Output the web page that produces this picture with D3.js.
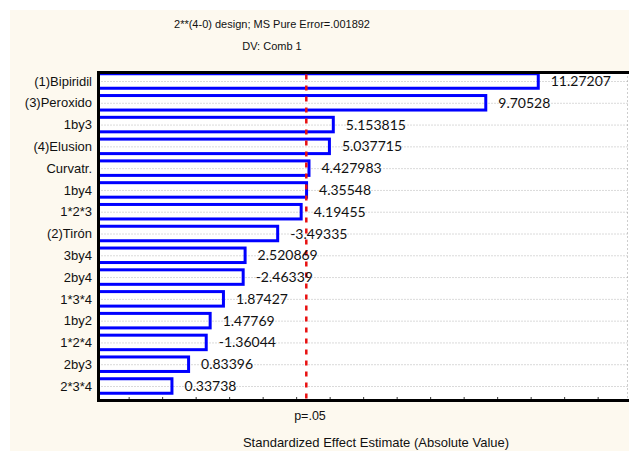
<!DOCTYPE html>
<html>
<head>
<meta charset="utf-8">
<script src="https://cdn.jsdelivr.net/npm/d3@7"></script>
<style>
  html, body { margin: 0; padding: 0; background: #ffffff; }
  svg { display: block; }
</style>
</head>
<body>
<svg id="chart" width="629" height="451"></svg>
<script>
// Effect names (sorted by absolute effect) and their signed standardized estimates
const factors = ["(1)Bipiridil", "(3)Peroxido", "1by3", "(4)Elusion", "Curvatr.", "1by4",
  "1*2*3", "(2)Tirón", "3by4", "2by4", "1*3*4", "1by2", "1*2*4", "2by3", "2*3*4"];
const effects = [11.27207, 9.70528, 5.153815, 5.037715, 4.427983, 4.35548,
  4.19455, -3.49335, 2.520869, -2.46339, 1.87427, 1.47769, -1.36044, 0.83396, 0.33738];
const effectLabels = ["11.27207", "9.70528", "5.153815", "5.037715", "4.427983", "4.35548",
  "4.19455", "-3.49335", "2.520869", "-2.46339", "1.87427", "1.47769", "-1.36044", "0.83396", "0.33738"];
const tickValues = [-1, 0, 1, 2, 3, 4, 5, 6, 7, 8, 9, 10, 11, 12, 13];
const critical = 4.303;   // t(.975, df=2)
const titleLines = ["2**(4-0) design; MS Pure Error=.001892", "DV: Comb 1"];
const xTitle = "Standardized Effect Estimate (Absolute Value)";
const critLabel = "p=.05";

const svg = d3.select("#chart");
const W = 629, H = 451;
const plot = { left: 98.5, top: 72.5, bottom: 400.5, right: 640 };

// page background
svg.append("rect").attr("x", 10).attr("y", 10).attr("width", W - 10).attr("height", H - 10)
  .attr("fill", "#fdf9ef");

// plot area
svg.append("rect").attr("x", plot.left).attr("y", plot.top)
  .attr("width", plot.right - plot.left).attr("height", plot.bottom - plot.top)
  .attr("fill", "#ffffff");

const x = d3.scaleLinear().domain([-1.9, 14.2]).range([plot.left, plot.left + 16.1 * 33.5]);
const y = d3.scalePoint().domain(factors).range([81, 386]);

svg.append("clipPath").attr("id", "plotclip").append("rect")
  .attr("x", plot.left).attr("y", plot.top).attr("width", W - plot.left).attr("height", plot.bottom - plot.top);

const g = svg.append("g").attr("clip-path", "url(#plotclip)");

// horizontal dotted grid through each effect row
g.selectAll("line.grid").data(factors).join("line")
  .attr("class", "grid")
  .attr("x1", plot.left).attr("x2", W)
  .attr("y1", d => y(d) + 0.5).attr("y2", d => y(d) + 0.5)
  .attr("stroke", "#b4b4b4").attr("stroke-width", 1).attr("stroke-dasharray", "1,2");

// dotted right edge
svg.append("line").attr("x1", 627.5).attr("x2", 627.5).attr("y1", plot.top).attr("y2", plot.bottom)
  .attr("stroke", "#9a9a9a").attr("stroke-width", 1).attr("stroke-dasharray", "1,3");

// hollow bars of absolute effect
const barH = 14.5;
g.selectAll("rect.bar").data(factors).join("rect")
  .attr("class", "bar")
  .attr("x", 98)
  .attr("y", d => y(d) - barH / 2)
  .attr("width", (d, i) => x(Math.abs(effects[i])) - 1.5 - 98)
  .attr("height", barH)
  .attr("fill", "none").attr("stroke", "#0000ff").attr("stroke-width", 3);

// critical value line
svg.append("line").attr("x1", x(critical)).attr("x2", x(critical))
  .attr("y1", plot.top + 2).attr("y2", plot.bottom)
  .attr("stroke", "#e81010").attr("stroke-width", 2.5).attr("stroke-dasharray", "5,6");

// value labels
svg.selectAll("text.val").data(factors).join("text")
  .attr("class", "val")
  .attr("x", (d, i) => x(Math.abs(effects[i])) + 11)
  .attr("y", d => y(d))
  .attr("dy", "0.36em")
  .attr("font-family", "Lato, 'Open Sans', sans-serif")
  .attr("font-size", 14)
  .attr("fill", "#111")
  .text((d, i) => effectLabels[i]);

// frame: left, top, bottom
svg.append("line").attr("x1", plot.left).attr("x2", plot.left).attr("y1", plot.top - 1.5).attr("y2", plot.bottom + 1.5)
  .attr("stroke", "#000").attr("stroke-width", 3);
svg.append("line").attr("x1", plot.left - 1.5).attr("x2", W).attr("y1", plot.top).attr("y2", plot.top)
  .attr("stroke", "#000").attr("stroke-width", 3);
svg.append("line").attr("x1", plot.left - 1.5).attr("x2", W).attr("y1", plot.bottom).attr("y2", plot.bottom)
  .attr("stroke", "#000").attr("stroke-width", 3);

// small inside ticks on the effect axis
const xAxis = d3.axisTop(x).tickValues(tickValues).tickSize(2).tickFormat("");
const axG = svg.append("g").attr("transform", `translate(0,${plot.bottom - 1.5})`).call(xAxis);
axG.select(".domain").remove();
axG.selectAll(".tick line").attr("stroke", "#333").attr("stroke-width", 1);

// category labels
svg.selectAll("text.cat").data(factors).join("text")
  .attr("class", "cat")
  .attr("x", 92).attr("y", d => y(d)).attr("dy", "0.36em")
  .attr("text-anchor", "end")
  .attr("font-family", "'Liberation Sans', Arial, sans-serif")
  .attr("font-size", 13)
  .attr("fill", "#111")
  .text(d => d);

// titles
svg.selectAll("text.title").data(titleLines).join("text")
  .attr("class", "title")
  .attr("x", 272).attr("y", (d, i) => 24 + i * 22).attr("dy", "0.36em")
  .attr("text-anchor", "middle")
  .attr("font-family", "'Liberation Sans', Arial, sans-serif")
  .attr("font-size", 11)
  .attr("fill", "#111")
  .text(d => d);

svg.append("text").attr("x", 310).attr("y", 415).attr("dy", "0.36em")
  .attr("text-anchor", "middle")
  .attr("font-family", "'Liberation Sans', Arial, sans-serif").attr("font-size", 12.5)
  .attr("fill", "#111").text(critLabel);

svg.append("text").attr("x", 376).attr("y", 442).attr("dy", "0.36em")
  .attr("text-anchor", "middle")
  .attr("font-family", "'Liberation Sans', Arial, sans-serif").attr("font-size", 13)
  .attr("fill", "#111").text(xTitle);
</script>
</body>
</html>
